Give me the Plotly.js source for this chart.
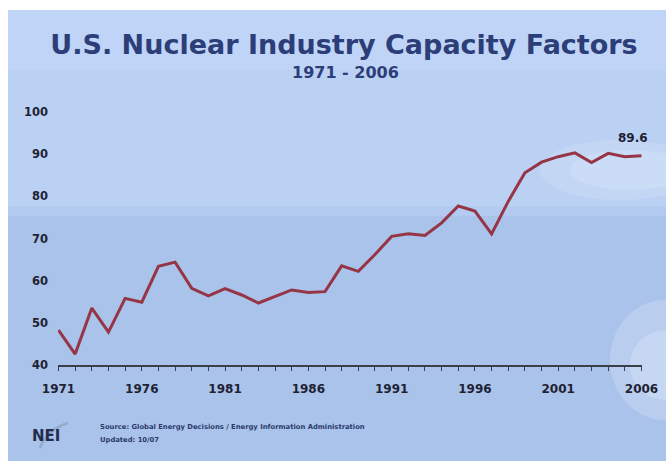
<!DOCTYPE html>
<html>
<head>
<meta charset="utf-8">
<script src="https://cdn.plot.ly/plotly-3.0.1.min.js"></script>
<style>
  html, body { margin: 0; padding: 0; background: #ffffff; }
  #chart { width: 666px; height: 461px; }
</style>
</head>
<body>
<div id="chart"></div>
<script>
// U.S. nuclear fleet capacity factor (%), 1971-2006
const years = [1971, 1972, 1973, 1974, 1975, 1976, 1977, 1978, 1979, 1980,
               1981, 1982, 1983, 1984, 1985, 1986, 1987, 1988, 1989, 1990,
               1991, 1992, 1993, 1994, 1995, 1996, 1997, 1998, 1999, 2000,
               2001, 2002, 2003, 2004, 2005, 2006];
const capacityFactor = [48.3, 42.6, 53.5, 47.8, 55.8, 54.9, 63.4, 64.4, 58.2, 56.4,
                        58.1, 56.6, 54.7, 56.2, 57.8, 57.2, 57.4, 63.5, 62.2, 66.2,
                        70.5, 71.1, 70.7, 73.7, 77.7, 76.5, 71.1, 78.8, 85.6, 88.1,
                        89.4, 90.3, 88.0, 90.2, 89.4, 89.6];
const xTickYears = [1971, 1976, 1981, 1986, 1991, 1996, 2001, 2006];
const yTicks = [40, 50, 60, 70, 80, 90, 100];
const lastYear = years[years.length - 1];
const lastValue = capacityFactor[capacityFactor.length - 1];

// page geometry (pixels)
const W = 666, H = 461;
const M = { l: 58, r: 24, t: 112, b: 96 };
const PW = W - M.l - M.r, PH = H - M.t - M.b;
const fx = px => (px - M.l) / PW;
const fy = py => (H - M.b - py) / PH;

const navy = '#2c3d78';
const ink = '#1e2233';

function rect(x0, y0, x1, y1, color, opacity) {
  return { type: 'rect', xref: 'paper', yref: 'paper', layer: 'below',
           x0: fx(x0), x1: fx(x1), y0: fy(y1), y1: fy(y0),
           fillcolor: color, opacity: opacity === undefined ? 1 : opacity,
           line: { width: 0 } };
}

function glow(x0, y0, x1, y1, color, opacity) {
  return { type: 'circle', xref: 'paper', yref: 'paper', layer: 'below',
           x0: fx(x0), x1: fx(x1), y0: fy(y1), y1: fy(y0),
           fillcolor: color, opacity: opacity, line: { width: 0 } };
}

// slide background: lighter upper half, slightly deeper lower half
const shapes = [
  rect(8, 10, W, H, '#aac3ea'),
  rect(8, 10, W, 206, '#bbd1f4'),
  rect(8, 206, W, 216, '#b3cbf0'),
  rect(8, 10, W, 70, '#c3d7f8', 0.5),
  // soft light patches
  glow(540, 140, 700, 200, '#d6e4fa', 0.3),
  glow(570, 150, 690, 190, '#dde8fb', 0.3),
  glow(610, 300, 720, 420, '#d6e3f9', 0.35),
  glow(630, 330, 700, 400, '#dde8fb', 0.35),
  // logo swoosh
  { type: 'path', xref: 'paper', yref: 'paper',
    path: 'M ' + fx(40) + ',' + fy(448) + ' Q ' + fx(46) + ',' + fy(430) + ' ' + fx(68) + ',' + fy(423),
    line: { color: '#8fa5c0', width: 2.5 }, opacity: 0.8 }
];

const trace = {
  x: years,
  y: capacityFactor,
  type: 'scatter',
  mode: 'lines',
  line: { color: '#963545', width: 3 },
  hoverinfo: 'x+y'
};

const layout = {
  width: W, height: H,
  margin: M,
  paper_bgcolor: '#ffffff',
  plot_bgcolor: 'rgba(0,0,0,0)',
  showlegend: false,
  font: { family: 'DejaVu Sans, Verdana, sans-serif', color: ink },
  title: {
    text: '<b>U.S. Nuclear Industry Capacity Factors</b>',
    xref: 'container', yref: 'container',
    x: 344 / W, y: 1 - 45 / H, xanchor: 'center', yanchor: 'middle',
    font: { family: 'DejaVu Sans, Verdana, sans-serif', size: 27, color: navy }
  },
  xaxis: {
    range: [1970.97, 2006.03],
    tickmode: 'array', tickvals: xTickYears, ticktext: xTickYears.map(String),
    showgrid: false, zeroline: false,
    showline: true, linecolor: '#3a3f4a', linewidth: 1.5,
    ticks: 'outside', ticklen: 4, tickwidth: 1, tickcolor: '#3a3f4a',
    ticklabelstandoff: 8,
    minor: { dtick: 1, tick0: 1971, ticks: 'outside', ticklen: 4, tickwidth: 1, tickcolor: '#3a3f4a', showgrid: false },
    tickfont: { family: 'DejaVu Sans, Verdana, sans-serif', size: 12, color: ink, weight: 'bold' },
    fixedrange: true
  },
  yaxis: {
    range: [40, 100],
    tickmode: 'array', tickvals: yTicks, ticktext: yTicks.map(String),
    showgrid: false, zeroline: false, showline: false, ticks: '',
    ticklabelstandoff: 9,
    tickfont: { family: 'DejaVu Sans, Verdana, sans-serif', size: 11.5, color: ink, weight: 'bold' },
    fixedrange: true
  },
  shapes: shapes,
  annotations: [
    { text: '<b>1971 - 2006</b>', xref: 'paper', yref: 'paper',
      x: fx(345), y: fy(72), xanchor: 'center', yanchor: 'middle', showarrow: false,
      font: { size: 16, color: navy } },
    { text: '<b>' + lastValue.toFixed(1) + '</b>', x: lastYear, y: lastValue,
      xref: 'x', yref: 'y', showarrow: false, xanchor: 'center', yanchor: 'middle',
      xshift: -9, yshift: 18,
      font: { size: 12, color: ink } },
    { text: '<b>NEI</b>', xref: 'paper', yref: 'paper',
      x: fx(30), y: fy(436), xanchor: 'left', yanchor: 'middle', showarrow: false,
      font: { size: 15, color: '#232c4e' } },
    { text: '<b>Source: Global Energy Decisions / Energy Information Administration</b>',
      xref: 'paper', yref: 'paper', x: fx(98), y: fy(427), xanchor: 'left', yanchor: 'middle',
      showarrow: false, font: { size: 6.8, color: '#2a3a6c' } },
    { text: '<b>Updated: 10/07</b>',
      xref: 'paper', yref: 'paper', x: fx(98), y: fy(440), xanchor: 'left', yanchor: 'middle',
      showarrow: false, font: { size: 6.8, color: '#2a3a6c' } }
  ]
};

Plotly.newPlot('chart', [trace], layout, { staticPlot: true, displayModeBar: false });
</script>
</body>
</html>
